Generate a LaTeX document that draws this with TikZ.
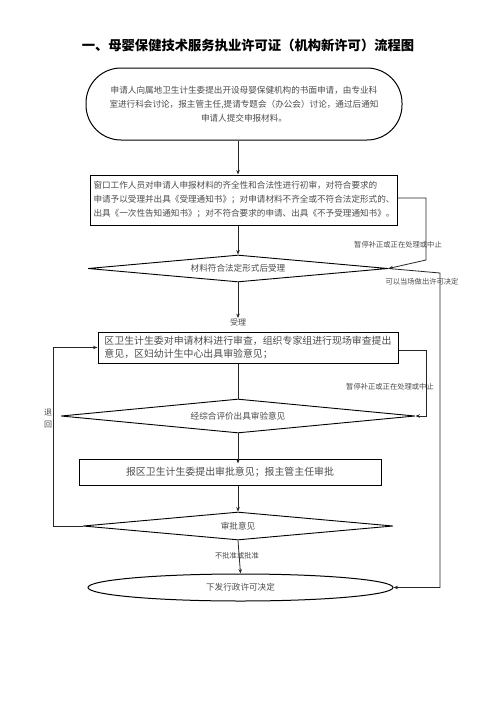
\documentclass[tikz,border=0pt]{standalone}
\usepackage{fontspec}
\setmainfont{Noto Sans CJK SC}
\usetikzlibrary{shapes.geometric,arrows.meta}
\begin{document}
\begin{tikzpicture}[x=1pt,y=-1pt,
  line/.style={draw=black!85, line width=0.8pt},
  arr/.style={line, -{Stealth[length=4.5pt,width=3.5pt]}},
  txt/.style={text=black!70},
  boxnode/.style={draw=black, line width=1pt, txt, inner sep=3pt},
  dia/.style={draw=black, line width=0.9pt, shape=diamond, aspect=12, inner sep=0pt, txt, font=\fontsize{8.6}{10}\selectfont},
  lbl/.style={txt, font=\fontsize{7.3}{8}\selectfont, inner sep=0pt},
]
\useasboundingbox[fill=white] (0,0) rectangle (496,702);

\node[font=\fontsize{13.3}{15}\selectfont\bfseries, text=black, inner sep=0pt] (title) at (248,45) {一、母婴保健技术服务执业许可证（机构新许可）流程图};

\node[boxnode, rounded corners=35pt, minimum width=316pt, minimum height=72pt, align=center,
  font=\fontsize{8.6}{14}\selectfont] (b1) at (244,104)
  {申请人向属地卫生计生委提出开设母婴保健机构的书面申请，由专业科\\
   室进行科会讨论，报主管主任,提请专题会（办公会）讨论，通过后通知\\
   申请人提交申报材料。};

\node[boxnode, minimum width=302pt, minimum height=50pt, align=left,
  font=\fontsize{8.6}{14}\selectfont] (b2) at (244,200)
  {窗口工作人员对申请人申报材料的齐全性和合法性进行初审，对符合要求的\\
   申请予以受理并出具《受理通知书》；对申请材料不齐全或不符合法定形式的、\\
   出具《一次性告知通知书》；对不符合要求的申请、出具《不予受理通知书》。};

\node[dia, minimum width=300pt, minimum height=27pt] (d1) at (238,268.5) {材料符合法定形式后受理};

\node[txt, font=\fontsize{8}{9}\selectfont, inner sep=0pt] (sl) at (238,322) {受理};

\node[boxnode, minimum width=300pt, minimum height=31pt, align=left,
  font=\fontsize{9.9}{13}\selectfont] (b3) at (248,347.5)
  {区卫生计生委对申请材料进行审查，组织专家组进行现场审查提出\\
   意见，区妇幼计生中心出具审验意见；};

\node[dia, minimum width=354pt, minimum height=34pt] (d2) at (238,416) {经综合评价出具审验意见};

\node[boxnode, minimum width=302pt, minimum height=26pt,
  font=\fontsize{9.9}{12}\selectfont] (b4) at (230,472)
  {报区卫生计生委提出审批意见；报主管主任审批};

\node[dia, minimum width=310pt, minimum height=28pt] (d3) at (238,526) {审批意见};

\node[draw=black, line width=1pt, ellipse, minimum width=305pt, minimum height=27pt, inner sep=0pt, txt,
  font=\fontsize{8.6}{10}\selectfont] (fin) at (240.5,587.5) {下发行政许可决定};

% labels
\node[lbl] (l1) at (398,245) {暂停补正或正在处理或中止};
\node[lbl] (l2) at (422,282) {可以当场做出许可决定};
\node[lbl] (l3) at (390,387) {暂停补正或正在处理或中止};
\node[lbl] (l4) at (237,556) {不批准或批准};
\node[txt, font=\fontsize{8}{12}\selectfont, align=center, inner sep=0pt] (tui) at (48,419) {退\\回};

% helper coordinates
\coordinate (rA) at (426,260);
\coordinate (rB) at (440,273);
\coordinate (rC) at (426,416);
\coordinate (rD) at (53,526);

% connectors
\draw[arr] (b1.south -| d1.north) -- (b2.north -| d1.north);
\draw[arr] (b2.south -| d1.north) -- (d1.north);
\draw[arr] ([yshift=2pt]b2.east) -| (rA) -- (d1.east);
\draw[arr] (d1.east) -- (rB) |- (fin.east);
\draw[arr] (d1.south) -- (sl.north);
\draw[line] (b3.south -| d2.north) -- (d2.north);
\draw[arr] ([yshift=-3pt]b3.east) -| (rC) -- (d2.east);
\draw[arr] (d2.south) -- ([yshift=-5pt]b4.north -| d2.south);
\draw[arr] (b4.south -| d3.north) -- (d3.north);
\draw[arr] (d3.south) -- (fin.north);
\draw[arr] (d3.west) -- (rD) |- (b3.west);
\end{tikzpicture}
\end{document}
